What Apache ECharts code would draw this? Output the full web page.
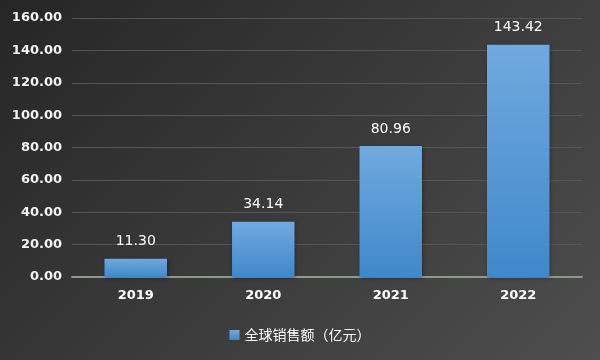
<!DOCTYPE html>
<html><head><meta charset="utf-8">
<script src="https://cdn.jsdelivr.net/npm/echarts@6/dist/echarts.min.js"></script>
<style>
html,body{margin:0;padding:0;}
#c{width:600px;height:360px;background:linear-gradient(135deg,#262626 0%,#3a3a3a 50%,#4e4e4e 100%);}
</style></head>
<body><div id="c"></div>
<script>
const categories = ['2019','2020','2021','2022'];
const values = [11.30, 34.14, 80.96, 143.42];
const seriesName = '全球销售额（亿元）';

const chart = echarts.init(document.getElementById('c'), null, {renderer:'canvas'});
const numFont = '"DejaVu Sans", sans-serif';
const cjkFont = '"Noto Sans CJK SC", sans-serif';
chart.setOption({
  backgroundColor: 'transparent',
  textStyle: {fontFamily: numFont},
  grid: {left: 72, right: 18, top: 18, bottom: 83},
  legend: {
    top: 323, left: 'center',
    itemWidth: 10, itemHeight: 10, itemGap: 5,
    textStyle: {color: '#ffffff', fontSize: 14, fontFamily: cjkFont},
    data: [{name: seriesName, icon: 'rect'}]
  },
  xAxis: {
    type: 'category', data: categories,
    axisLine: {lineStyle: {color: '#8a9a88', width: 2}},
    axisTick: {show: false},
    axisLabel: {color: '#ffffff', fontSize: 13, fontWeight: 'bold', margin: 12, fontFamily: numFont}
  },
  yAxis: {
    type: 'value', min: 0, max: 160, interval: 20,
    axisLine: {show: false}, axisTick: {show: false},
    axisLabel: {color: '#f4f4f4', fontSize: 13, fontWeight: 'bold', margin: 10, fontFamily: numFont,
      formatter: v => v.toFixed(2)},
    splitLine: {lineStyle: {color: '#555555', width: 1}}
  },
  series: [{
    name: seriesName, type: 'bar', data: values, barWidth: '49%',
    itemStyle: {
      color: new echarts.graphic.LinearGradient(0,0,0,1,[
        {offset:0, color:'#70a9df'},{offset:1, color:'#4088cb'}]),
      shadowColor: 'rgba(0,0,0,0.35)', shadowBlur: 4, shadowOffsetX: 1, shadowOffsetY: 1
    },
    label: {show: true, position: 'top', distance: 10, color: '#ffffff', fontSize: 14,
      fontFamily: numFont, formatter: p => p.value.toFixed(2)}
  }]
});
</script></body></html>
